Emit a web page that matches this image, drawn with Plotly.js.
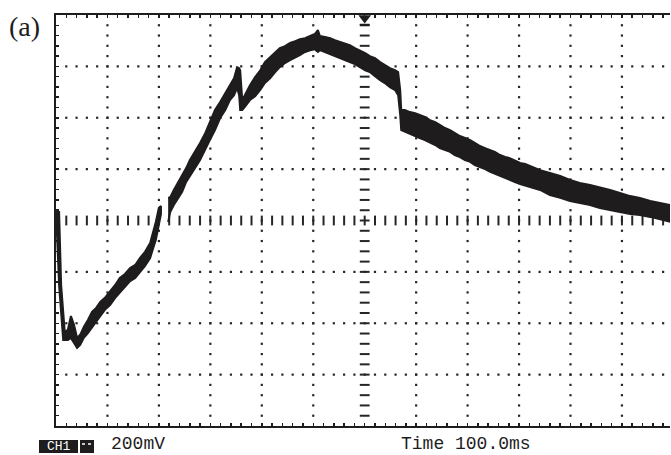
<!DOCTYPE html>
<html><head><meta charset="utf-8">
<script src="https://cdn.plot.ly/plotly-3.0.1.min.js"></script>
<style>html,body{margin:0;padding:0;background:#fff;}#chart{width:671px;height:455px;}</style>
</head><body><div id="chart"></div>
<script>
// Oscilloscope trace: time (ms), upper and lower edge of the noisy band (mV)
const timeMs = [0,2,6,10,14,17,23,29,35,41,47,54,62,70,78,86,95,105,115,124,134,144,154,163,173,183,189,194,200,204,
  null,
  218,222,229,237,245,253,260,270,280,290,299,309,319,329,338,346,352,356,358,362,367,377,387,397,406,416,426,435,445,455,465,474,484,494,503,509,513,523,533,542,552,562,571,581,591,601,610,620,630,639,649,659,665,669,671,678,688,698,707,717,727,737,746,756,766,775,785,795,805,814,824,834,844,853,863,873,882,892,902,912,921,941,960,980,999,1018,1038,1057,1077,1096,1116,1135,1155,1174,1195];
const upperMv = [33,33,33,-251,-360,-434,-426,-372,-406,-457,-445,-414,-387,-356,-340,-317,-301,-278,-251,-224,-208,-185,-173,-146,-122,-88,-45,-6,49,56,
  null,
  88,91,119,146,173,204,235,267,302,340,383,430,461,496,527,554,597,593,585,469,488,527,558,585,617,636,656,671,679,691,698,706,710,718,726,741,718,714,710,702,695,687,683,671,663,652,640,632,617,605,593,585,578,508,430,430,422,418,411,403,391,383,372,360,352,340,329,321,313,302,290,282,274,267,255,247,243,235,224,220,212,196,185,173,158,146,138,130,119,107,95,88,76,68,60];
const lowerMv = [-56,-56,-251,-360,-465,-465,-465,-457,-477,-496,-484,-457,-438,-414,-395,-372,-348,-329,-301,-278,-259,-236,-224,-201,-177,-146,-107,-76,-21,25,
  null,
  -6,33,60,88,111,150,169,204,235,274,313,352,399,430,469,488,516,488,430,430,442,469,484,508,535,554,578,597,613,624,636,644,656,663,667,656,663,656,648,640,632,624,617,609,597,585,578,562,546,535,519,508,488,411,352,344,337,329,321,313,305,294,282,274,267,255,247,235,228,216,208,200,189,181,173,165,158,150,142,134,130,119,99,88,76,68,60,49,41,33,25,21,14,6,-6];

const channelLabel = "CH1";
const voltsPerDivLabel = "200mV";
const timeLabel = "Time 100.0ms";
const panelLabel = "(a)";

// screen geometry: 12 x 8 divisions, 100 ms/div, 200 mV/div
const msPerDiv = 100, mvPerDiv = 200;
const xMax = 1193.4, yMin = -800, yMax = 800;

// build the filled band polygons (one per continuous segment)
const bandX = [], bandY = [];
let seg = [];
const segs = [];
timeMs.forEach((t, i) => { if (t === null) { segs.push(seg); seg = []; } else seg.push(i); });
segs.push(seg);
segs.forEach((s, k) => {
  if (k > 0) { bandX.push(null); bandY.push(null); }
  s.forEach(i => { bandX.push(timeMs[i]); bandY.push(upperMv[i]); });
  s.slice().reverse().forEach(i => { bandX.push(timeMs[i]); bandY.push(lowerMv[i]); });
});

// graticule dots
const dotX = [], dotY = [], hBarX = [], hBarY = [], vDashX = [], vDashY = [];
const minorX = msPerDiv / 5, minorY = mvPerDiv / 5;
for (let k = 1; k <= 11; k++) {
  const gx = k * msPerDiv;
  for (let m = 1; m < 40; m++) {
    const gy = yMin + m * minorY;
    if (k === 6) { vDashX.push(gx); vDashY.push(gy); }
    else { dotX.push(gx); dotY.push(gy); }
  }
}
for (let k = 1; k <= 7; k++) {
  const gy = yMin + k * mvPerDiv;
  for (let n = 1; n * minorX < xMax; n++) {
    const gx = n * minorX;
    if (k === 4) { hBarX.push(gx); hBarY.push(gy); }
    else { dotX.push(gx); dotY.push(gy); }
  }
}

const ink = '#1e1c1d';
const traces = [
  {x: dotX, y: dotY, mode: 'markers', type: 'scatter', hoverinfo: 'skip',
   marker: {symbol: 'square', size: 2.2, color: '#262626'}},
  {x: hBarX, y: hBarY, mode: 'markers', type: 'scatter', hoverinfo: 'skip',
   marker: {symbol: 'line-ns', size: 7, line: {width: 2, color: '#262626'}}},
  {x: vDashX, y: vDashY, mode: 'markers', type: 'scatter', hoverinfo: 'skip',
   marker: {symbol: 'line-ew', size: 7, line: {width: 2, color: '#262626'}}},
  {x: bandX, y: bandY, mode: 'lines', type: 'scatter', fill: 'toself',
   fillcolor: ink, line: {color: ink, width: 2}, hoverinfo: 'skip'},
  {x: [600], y: [788], mode: 'markers', type: 'scatter', cliponaxis: false, hoverinfo: 'skip',
   marker: {symbol: 'triangle-down', size: 11, color: ink}},
  {x: [600], y: [762], mode: 'markers', type: 'scatter', cliponaxis: false, hoverinfo: 'skip',
   marker: {symbol: 'line-ew', size: 7, line: {width: 2, color: ink}}},
  {x: [-8.7], y: [-780], mode: 'markers', type: 'scatter', cliponaxis: false, hoverinfo: 'skip',
   marker: {symbol: 'triangle-right', size: 5, color: '#555'}}
];

const L = 56, R = 670, T = 15, B = 426;
const px = p => (p - L) / (R - L);
const py = p => (B - p) / (B - T);
const mono = 'Liberation Mono, DejaVu Sans Mono, monospace';

const layout = {
  width: 671, height: 455,
  margin: {l: L, r: 671 - R, t: T, b: 455 - B, pad: 0},
  paper_bgcolor: '#fff', plot_bgcolor: '#fff',
  showlegend: false,
  xaxis: {range: [0, xMax], showgrid: false, zeroline: false, showticklabels: false,
    showline: true, linecolor: ink, linewidth: 2, mirror: 'ticks',
    ticks: 'inside', tick0: 0, dtick: minorX, ticklen: 3, tickwidth: 1.5, tickcolor: ink, fixedrange: true},
  yaxis: {range: [yMin, yMax], showgrid: false, zeroline: false, showticklabels: false,
    showline: true, linecolor: ink, linewidth: 2, mirror: false,
    ticks: 'inside', tick0: yMin, dtick: minorY, ticklen: 3, tickwidth: 1.5, tickcolor: ink, fixedrange: true},
  shapes: [
    {type: 'rect', xref: 'paper', yref: 'paper', x0: px(39), x1: px(78), y0: py(453), y1: py(440),
     fillcolor: ink, line: {width: 0}},
    {type: 'rect', xref: 'paper', yref: 'paper', x0: px(80), x1: px(94), y0: py(453), y1: py(440),
     fillcolor: ink, line: {width: 0}},
    {type: 'line', xref: 'paper', yref: 'paper', x0: px(82), x1: px(92), y0: py(444), y1: py(444),
     line: {color: '#fff', width: 1.5, dash: 'dot'}}
  ],
  annotations: [
    {text: panelLabel, xref: 'paper', yref: 'paper', x: px(7), y: py(27), xanchor: 'left', yanchor: 'middle',
     showarrow: false, font: {family: 'Liberation Serif, Times New Roman, serif', size: 28, color: ink}},
    {text: channelLabel, xref: 'paper', yref: 'paper', x: px(58.5), y: py(446.5), xanchor: 'center', yanchor: 'middle',
     showarrow: false, font: {family: mono, size: 13, color: '#fff'}},
    {text: voltsPerDivLabel, xref: 'paper', yref: 'paper', x: px(109), y: py(444), xanchor: 'left', yanchor: 'middle',
     showarrow: false, font: {family: mono, size: 18, color: ink}},
    {text: timeLabel, xref: 'paper', yref: 'paper', x: px(399), y: py(444), xanchor: 'left', yanchor: 'middle',
     showarrow: false, font: {family: mono, size: 18, color: ink}}
  ]
};

Plotly.newPlot('chart', traces, layout, {staticPlot: true, displayModeBar: false});
</script></body></html>
